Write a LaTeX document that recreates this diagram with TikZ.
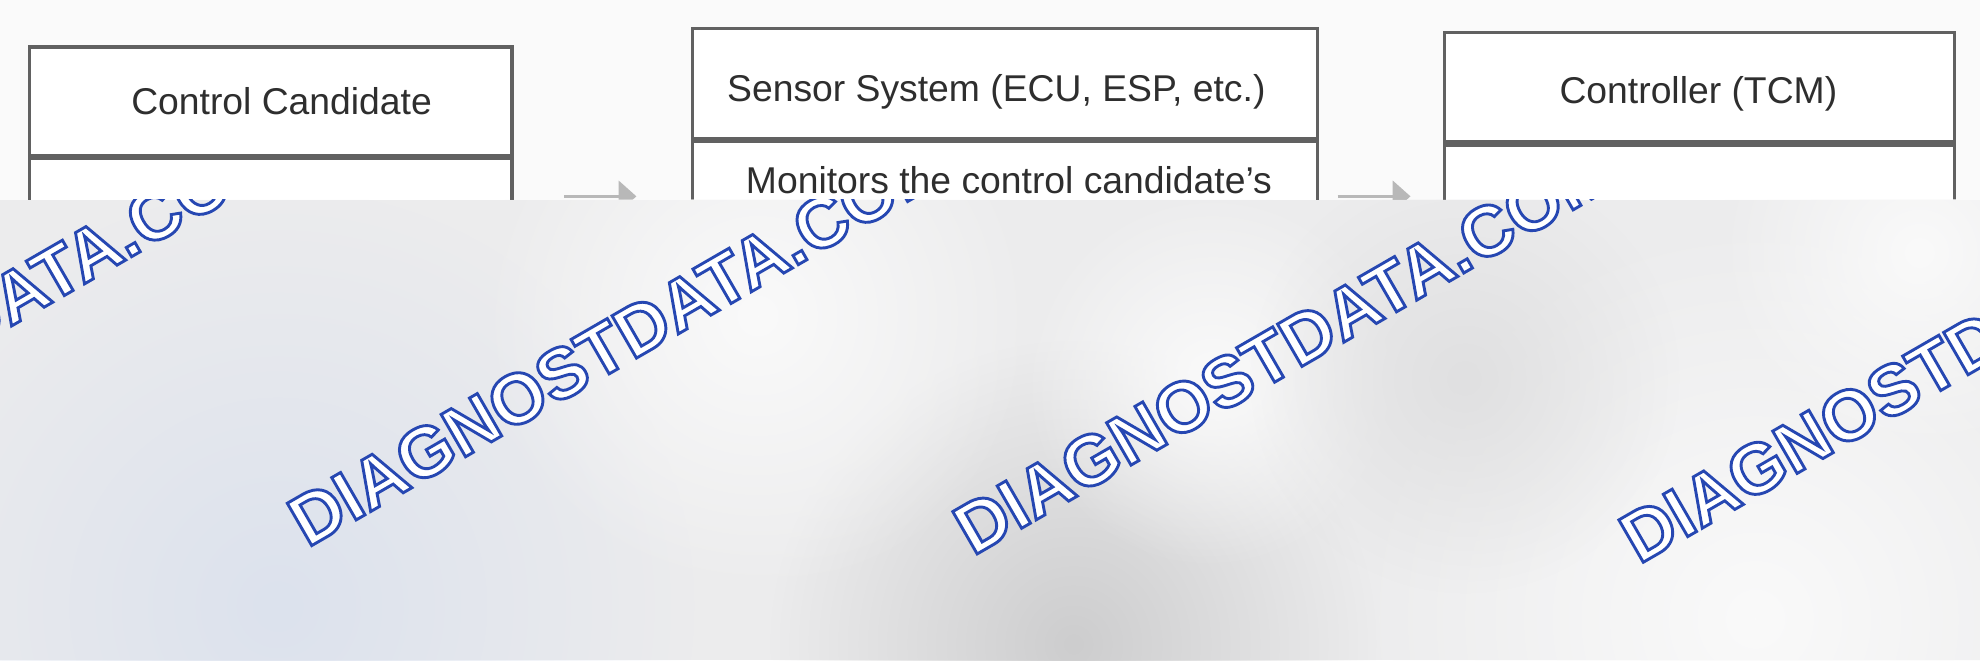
\documentclass[tikz,border=0pt]{standalone}
\usepackage{fontspec}
\setmainfont{Liberation Sans}
\usetikzlibrary{arrows.meta,calc,fadings}
\tikzfading[name=softblob, inner color=transparent!0, outer color=transparent!100]
\definecolor{topbg}{HTML}{FAFAFA}
\definecolor{boxline}{HTML}{616161}
\definecolor{arrowgray}{HTML}{B8B8B8}
\definecolor{ovbase}{HTML}{ECECED}
\definecolor{ovblue}{HTML}{DCE2EE}
\definecolor{ovdark}{HTML}{CDCDCE}
\definecolor{ovlight}{HTML}{FAFAFA}
\definecolor{ovmid}{HTML}{E0E0E1}
\newcommand\outlinetext[1]{\special{pdf:literal direct 2 Tr 0.65 w 0.15 0.28 0.70 RG}#1\special{pdf:literal direct 0 Tr}}
\tikzset{
  hdrbox/.style={draw=boxline, fill=white, line width=0.7pt, inner sep=0pt, anchor=north west},
  bodybox/.style={draw=boxline, fill=white, line width=0.7pt, inner sep=0pt, anchor=north west},
  lbl/.style={font=\fontsize{8.4}{10}\selectfont, text=black!82, inner sep=0pt, anchor=base},
  arr/.style={draw=arrowgray, line width=0.6pt, -{Triangle[length=4pt,width=7pt]}},
  wm/.style={font=\fontsize{16}{19}\selectfont\bfseries, text=white, inner sep=0pt, anchor=base west, rotate=30},
  blob/.style={path fading=softblob}
}
\begin{document}
\begin{tikzpicture}[x=0.01cm,y=-0.01cm]
\useasboundingbox (0,0) rectangle (1568,522.7);
\fill[topbg] (0,0) rectangle (1568,522.7);

% boxes
\node[hdrbox, minimum width=3.82cm, minimum height=0.86cm] (h1) at (22,36) {};
\node[bodybox, minimum width=3.82cm, minimum height=3cm] (b1) at (h1.south west) {};
\node[hdrbox, minimum width=4.946cm, minimum height=0.874cm] (h2) at (547,21) {};
\node[bodybox, minimum width=4.946cm, minimum height=3cm] (b2) at (h2.south west) {};
\node[hdrbox, minimum width=4.03cm, minimum height=0.867cm] (h3) at (1143,24.5) {};
\node[bodybox, minimum width=4.03cm, minimum height=3cm] (b3) at (h3.south west) {};

\node[lbl] (t1) at (223,91) {Control Candidate};
\node[lbl] (t2) at (789,80.5) {Sensor System (ECU, ESP, etc.)};
\node[lbl] (t3) at (1345,82) {Controller (TCM)};
\node[lbl] (t2b) at (799,153) {Monitors the control candidate's};

% arrows
\coordinate (ay) at (0,155.5);
\draw[arr, shorten <=0.40cm, shorten >=0.43cm] (b1.east |- ay) -- (b2.west |- ay);
\draw[arr, shorten <=0.15cm, shorten >=0.26cm] (b2.east |- ay) -- (b3.west |- ay);

% overlay
\begin{scope}
\clip (0,158) rectangle (1568,522.7);
\fill[ovbase] (0,158) rectangle (1568,522.7);
\fill[ovblue, blob] (220,480) circle (330);
\fill[ovdark, blob] (850,510) circle (240);
\fill[ovlight, blob] (1390,490) circle (320);
\fill[ovlight, blob] (600,250) circle (220);
\fill[ovlight, blob] (960,300) circle (150);
\fill[ovmid, blob] (1160,300) circle (170);
\fill[ovlight, blob] (1520,200) circle (160);
\node[wm] (w1) at (-285,428) {\outlinetext{DIAGNOSTDATA.COM}};
\node[wm] (w2) at (243,434.3) {\outlinetext{DIAGNOSTDATA.COM}};
\node[wm] (w3) at (770,440.9) {\outlinetext{DIAGNOSTDATA.COM}};
\node[wm] (w4) at (1297.5,447.5) {\outlinetext{DIAGNOSTDATA.COM}};
\end{scope}
\end{tikzpicture}
\end{document}
